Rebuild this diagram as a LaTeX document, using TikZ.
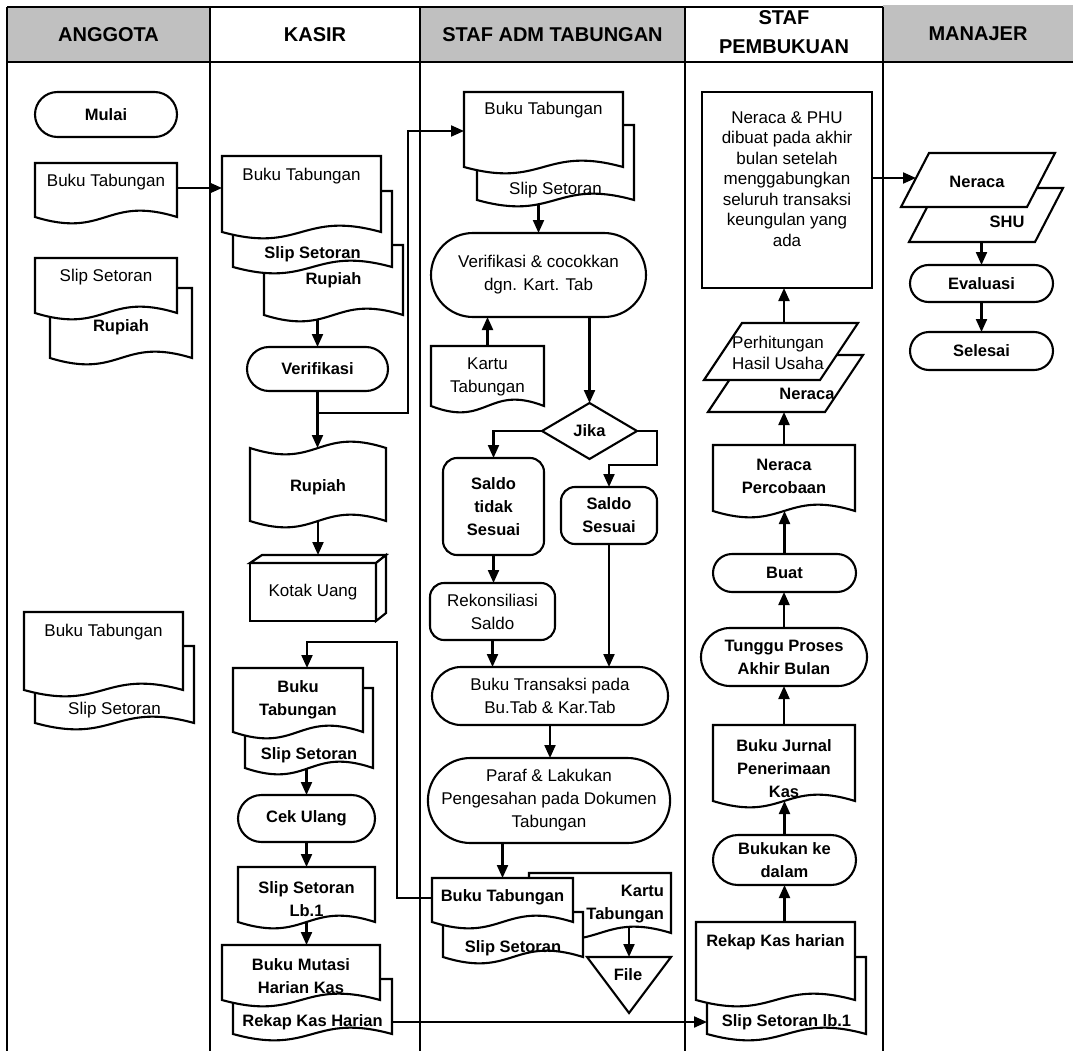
\documentclass[tikz,border=0pt]{standalone}
\usepackage{fontspec}
\setmainfont{Liberation Sans}
\usetikzlibrary{arrows.meta,shapes.misc,shapes.geometric,calc}
\pgfdeclarelayer{bg}
\pgfsetlayers{bg,main}
\definecolor{hg}{RGB}{192,192,192}
\tikzset{
  lw/.style={line width=2.1pt},
  shp/.style={lw, draw=black, fill=white},
  txt/.style={inner sep=0pt, outer sep=0pt, align=center, font=\fontsize{17}{23}\selectfont},
  txb/.style={txt, font=\fontsize{16.5}{23}\selectfont\bfseries},
  term/.style={shp, rounded rectangle, inner sep=0pt, outer sep=0pt},
  rbox/.style={shp, rectangle, rounded corners=14pt, inner sep=0pt, outer sep=0pt},
  arr/.style={lw, -{Triangle[length=13pt,width=11pt]}},
  hdr/.style={inner sep=0pt, outer sep=0pt, align=center, font=\fontsize{20}{27}\selectfont\bfseries},
}
% #1 opts, #2 name, #3 x0, #4 x1, #5 ytop, #6 ytext, #7 ywave, #8 text
\newcommand\FDoc[8][]{%
  \draw[shp] (#3,#5) -- (#4,#5) -- (#4,#7) .. controls ({(#3+#4)/2},{#7-22}) and ({(#3+#4)/2},{#7+22}) .. (#3,#7) -- cycle;
  \node[txt,#1] (#2) at ({(#3+#4)/2},#6) {#8};
  \coordinate (#2-t) at ({(#3+#4)/2},#5);
  \coordinate (#2-w) at ({(#3+#4)/2},#7);
  \coordinate (#2-in) at ({(#3+#4)/2},{#7-10});
}
\begin{document}
\begin{tikzpicture}[x=1pt,y=-1pt]
\useasboundingbox (0,0) rectangle (1073,1051);
\begin{pgfonlayer}{bg}
\node[hdr, fill=hg, minimum width=203pt, minimum height=55pt] (hA) at (108.5,34.5) {ANGGOTA};
\node[hdr, minimum width=210pt, minimum height=55pt] (hK) at (315,34.5) {KASIR};
\node[hdr, fill=hg, minimum width=265pt, minimum height=55pt] (hS) at (552.5,34.5) {STAF ADM TABUNGAN};
\node[hdr, minimum width=198pt, minimum height=51pt, font=\fontsize{20}{29}\selectfont\bfseries] (hP) at (784,32.5) {STAF\\PEMBUKUAN};
\node[hdr, fill=hg, minimum width=190pt, minimum height=57pt] (hM) at (978,33.5) {MANAJER};
\draw[lw] (7,7) -- (883,7);
\draw[lw] (7,62) -- (1073,62);
\foreach \x in {7,210,420,685,883} \draw[lw] (\x,7) -- (\x,1051);
\end{pgfonlayer}

% ---------- ANGGOTA ----------
\node[term, txb, minimum width=142pt, minimum height=45pt] (a-mulai) at (106,114.5) {Mulai};
\FDoc{a-bt}{35}{177}{163}{182}{217}{Buku Tabungan}
\coordinate (a-bt-o) at (170,188);
\FDoc[txb]{a-rp}{50}{192}{288}{327}{358}{Rupiah}
\FDoc{a-ss}{35}{177}{258}{277}{313}{Slip Setoran}
\FDoc{a-ss2}{35}{194}{646}{710}{723}{Slip Setoran}
\FDoc{a-bt2}{24}{183}{612}{632}{690}{Buku Tabungan}

% ---------- KASIR ----------
\FDoc[txb]{k-rp}{264}{403}{245}{280}{315}{Rupiah}
\FDoc[txb]{k-ss}{233}{392}{191}{254}{267}{Slip Setoran}
\FDoc{k-bt}{222}{381}{156}{176}{232}{Buku Tabungan}
\coordinate (k-bt-l) at (222,188);
\node[term, txb, minimum width=141pt, minimum height=44pt] (k-ver) at (317.5,369) {Verifikasi};
\draw[shp] (250,448) .. controls (318,470) and (318,426) .. (386,448) -- (386,521) .. controls (318,499) and (318,543) .. (250,521) -- cycle;
\node[txb] (k-rup) at (318,487) {Rupiah};
\coordinate (k-rup-t) at (318,448);
\coordinate (k-rup-in) at (318,511);
\node[shp, txt, minimum width=126pt, minimum height=58pt] (k-kot) at (313,592) {Kotak Uang};
\draw[shp] (k-kot.north west) -- ++(12,-8) -- ++(124,0) -- ++(-10,8) -- cycle;
\draw[shp] (k-kot.north east) -- ++(10,-8) -- ++(0,58) -- ++(-10,8) -- cycle;
\coordinate (k-kot-t) at (318,555);
\FDoc[txb]{k-ss2}{245}{373}{688}{755}{768}{Slip Setoran}
\FDoc[txb]{k-bt2}{233}{363}{668}{700}{732}{Buku\\Tabungan}
\coordinate (k-bt2-a) at (307,668);
\node[term, txb, minimum width=137pt, minimum height=47pt] (k-cek) at (306.5,818.5) {Cek Ulang};
\FDoc[txb]{k-lb}{238}{375}{867}{899}{922}{Slip Setoran\\Lb.1}
\FDoc[txb]{k-rk}{233}{392}{979}{1022}{1034}{Rekap Kas Harian}
\FDoc[txb]{k-bm}{222}{380}{945}{976}{1000}{Buku Mutasi\\Harian Kas}
\coordinate (kj) at (408,413);
\coordinate (kj2) at (397,642);

% ---------- STAF ADM TABUNGAN ----------
\FDoc{s-ss}{477}{634}{125}{190}{200}{Slip Setoran}
\FDoc{s-bt}{464}{623}{92}{110}{167}{Buku Tabungan}
\coordinate (s-bt-l) at (464,131);
\node[term, txt, minimum width=215pt, minimum height=84pt] (s-ver) at (538.5,275) {Verifikasi \& cocokkan\\dgn. Kart. Tab};
\FDoc{s-kt}{431}{544}{346}{377}{406}{Kartu\\Tabungan}
\node[shp, diamond, txb, minimum width=95pt, minimum height=56pt] (s-jika) at (589.5,431) {Jika};
\node[rbox, txb, minimum width=101pt, minimum height=97pt] (s-st) at (493.5,506.5) {Saldo\\tidak\\Sesuai};
\node[rbox, txb, minimum width=96pt, minimum height=57pt] (s-sok) at (609,515.5) {Saldo\\Sesuai};
\node[rbox, txt, minimum width=125pt, minimum height=57pt] (s-rek) at (492.5,611.5) {Rekonsiliasi\\Saldo};
\node[term, txt, minimum width=236pt, minimum height=58pt] (s-btr) at (550,696) {Buku Transaksi pada\\Bu.Tab \& Kar.Tab};
\node[term, txt, minimum width=238pt, minimum height=85pt] (s-par) at (549,800.5) {Paraf \& Lakukan\\Pengesahan pada Dokumen\\Tabungan};
\draw[shp] (529,873) -- (671,873) -- (671,933) .. controls (600,911) and (600,955) .. (529,933) -- cycle;
\node[txb, align=right, anchor=east] (s-kt2) at (664,904.5) {Kartu\\Tabungan};
\coordinate (s-kt2-in) at (629,920);
\FDoc[txb]{s-ss3}{443}{583}{912}{948}{957}{Slip Setoran}
\FDoc[txb]{s-bt3}{432}{573}{878}{897}{922}{Buku Tabungan}
\coordinate (s-bt3-l) at (440,898);
\draw[shp] (587,957) -- (671,957) -- (629,1013) -- cycle;
\node[txb] (s-file) at (628,975) {File};
\coordinate (s-file-t) at (629,957);

% ---------- STAF PEMBUKUAN ----------
\draw[shp] (702,92) rectangle (872,288);
\node[txt, font=\fontsize{17}{20.5}\selectfont] (p-box) at (787,179) {Neraca \& PHU\\dibuat pada akhir\\bulan setelah\\menggabungkan\\seluruh transaksi\\keungulan yang\\ada};
\coordinate (p-box-s) at (784,288);
\coordinate (p-box-e) at (872,178);
\draw[shp] (746,355) -- (863,355) -- (825,412) -- (708,412) -- cycle;
\node[txb] (p-ner) at (807,394) {Neraca};
\coordinate (p-ner-b) at (784,412);
\draw[shp] (742,323) -- (858,323) -- (820,380) -- (704,380) -- cycle;
\node[txt, font=\fontsize{17}{21}\selectfont] (p-phu) at (778,352.5) {Perhitungan\\Hasil Usaha};
\coordinate (p-phu-in) at (784,335);
\FDoc[txb]{p-np}{713}{855}{445}{476.5}{511}{Neraca\\Percobaan}
\node[term, txb, minimum width=143pt, minimum height=38pt] (p-buat) at (784.5,573) {Buat};
\node[term, txb, minimum width=166pt, minimum height=58pt] (p-tun) at (784,657) {Tunggu Proses\\Akhir Bulan};
\FDoc[txb]{p-bj}{713}{855}{725}{769}{801}{Buku Jurnal\\Penerimaan\\Kas}
\node[term, txb, minimum width=143pt, minimum height=50pt] (p-buk) at (784.5,860) {Bukukan ke\\dalam};
\FDoc[txb]{p-sl}{707}{866}{957}{1022}{1034}{Slip Setoran lb.1}
\FDoc[txb]{p-rk}{696}{855}{922}{942}{1000}{Rekap Kas harian}
\coordinate (p-sl-l) at (707,1022);

% ---------- MANAJER ----------
\draw[shp] (937,188) -- (1063,188) -- (1035,242) -- (909,242) -- cycle;
\node[txb] (m-shu) at (1007,222) {SHU};
\coordinate (m-shu-in) at (981.5,232);
\draw[shp] (929,153) -- (1055,153) -- (1027,207) -- (901,207) -- cycle;
\node[txb] (m-ner) at (977,182) {Neraca};
\coordinate (m-ner-l) at (916,178);
\node[term, txb, minimum width=143pt, minimum height=37pt] (m-eva) at (981.5,283.5) {Evaluasi};
\node[term, txb, minimum width=143pt, minimum height=38pt] (m-sel) at (981.5,351) {Selesai};

% ---------- connectors ----------
\begin{pgfonlayer}{bg}
\draw[arr] (a-bt-o) -- (k-bt-l);
\draw[arr] (k-ver.north |- k-rp-in) -- (k-ver.north);
\draw[arr] (k-ver.south) -- (k-ver.south |- k-rup-t);
\draw[arr] (k-ver.south) |- (kj) |- (s-bt-l);
\draw[arr] (k-rup-in) -- (k-kot-t);
\draw[arr] (s-bt3-l) -| (kj2) -| (k-bt2-a);
\draw[arr] (k-cek.north |- k-ss2-in) -- (k-cek.north);
\draw[arr] (k-cek.south) -- (k-cek.south |- k-lb-t);
\draw[arr] (k-lb-in) -- (k-lb-in |- k-bm-t);
\draw[arr] (k-rk.center) -- (k-rk.center -| p-sl-l);
\draw[arr] (s-ver.north |- s-ss-in) -- (s-ver.north);
\draw[arr] (s-kt-t) -- (s-kt-t |- s-ver.south);
\draw[arr] (s-jika.north |- s-ver.south) -- (s-jika.north);
\draw[arr] (s-jika.west) -| (s-st.north);
\draw[arr] (s-jika.east) -- ++(20,0) |- ($(s-sok.north)+(0,-22)$) -- (s-sok.north);
\draw[arr] (s-st.south) -- (s-st.south |- s-rek.north);
\draw[arr] (s-rek.south) -- (s-rek.south |- s-btr.north);
\draw[arr] (s-sok.south) -- (s-sok.south |- s-btr.north);
\draw[arr] (s-btr.south) -- (s-btr.south |- s-par.north);
\draw[arr] (s-par.south -| s-bt3-t) -- (s-bt3-t);
\draw[arr] (s-file-t |- s-kt2-in) -- (s-file-t);
\draw[arr] (p-buk.south |- p-rk.center) -- (p-buk.south);
\draw[arr] (p-buk.north) -- (p-buk.north |- p-bj-w);
\draw[arr] (p-bj-t) -- (p-bj-t |- p-tun.south);
\draw[arr] (p-tun.north) -- (p-tun.north |- p-buat.south);
\draw[arr] (p-buat.north) -- (p-buat.north |- p-np-w);
\draw[arr] (p-np-t) -- (p-np-t |- p-ner-b);
\draw[arr] (p-phu-in) -- (p-phu-in |- p-box-s);
\draw[arr] (p-box-e) -- (m-ner-l);
\draw[arr] (m-eva.north |- m-shu-in) -- (m-eva.north);
\draw[arr] (m-eva.south) -- (m-sel.north);
\end{pgfonlayer}
\end{tikzpicture}
\end{document}
